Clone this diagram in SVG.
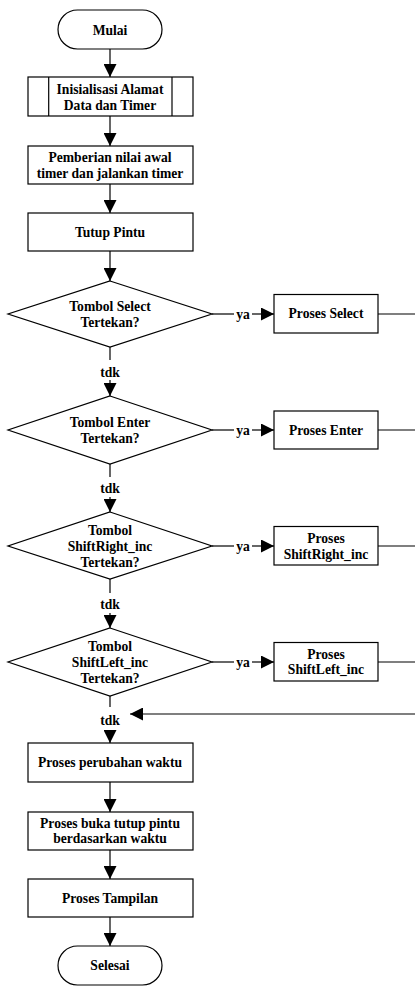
<svg xmlns="http://www.w3.org/2000/svg" width="415" height="986" viewBox="0 0 415 986">
<style>
.s{fill:#fff;stroke:#000;stroke-width:1.2}
.c{fill:none;stroke:#000;stroke-width:1.2}
text{font-family:"Liberation Serif","Times New Roman",serif;font-weight:bold;font-size:13.6px;fill:#000;text-anchor:middle}
</style>
<defs>
<marker id="ah" markerUnits="userSpaceOnUse" markerWidth="13" markerHeight="13" viewBox="0 0 12 12" refX="12" refY="6" orient="auto">
<path d="M0,0 L12,6 L0,12 Z" fill="#000"/>
</marker>
</defs>
<rect width="415" height="986" fill="#fff"/>
<g id="connectors">
<line class="c" x1="110" y1="49" x2="110" y2="77" marker-end="url(#ah)"/>
<line class="c" x1="110" y1="116" x2="110" y2="146" marker-end="url(#ah)"/>
<line class="c" x1="110" y1="184" x2="110" y2="213" marker-end="url(#ah)"/>
<line class="c" x1="110" y1="251" x2="110" y2="281" marker-end="url(#ah)"/>
<line class="c" x1="110" y1="347" x2="110" y2="360"/>
<text x="110" y="376.5">tdk</text>
<line class="c" x1="110" y1="380" x2="110" y2="396" marker-end="url(#ah)"/>
<line class="c" x1="110" y1="464" x2="110" y2="477"/>
<text x="110" y="492.5">tdk</text>
<line class="c" x1="110" y1="497" x2="110" y2="512" marker-end="url(#ah)"/>
<line class="c" x1="110" y1="579" x2="110" y2="593"/>
<text x="110" y="608.5">tdk</text>
<line class="c" x1="110" y1="613" x2="110" y2="628" marker-end="url(#ah)"/>
<line class="c" x1="110" y1="696" x2="110" y2="707"/>
<text x="110" y="724.5">tdk</text>
<line class="c" x1="110" y1="731" x2="110" y2="743" marker-end="url(#ah)"/>
<line class="c" x1="110" y1="782" x2="110" y2="812" marker-end="url(#ah)"/>
<line class="c" x1="110" y1="850" x2="110" y2="879" marker-end="url(#ah)"/>
<line class="c" x1="110" y1="917" x2="110" y2="946" marker-end="url(#ah)"/>
<!-- ya branches -->
<line class="c" x1="212" y1="314" x2="234" y2="314"/>
<text x="243" y="318.5">ya</text>
<line class="c" x1="252" y1="314" x2="274" y2="314" marker-end="url(#ah)"/>
<line class="c" x1="378" y1="314" x2="415" y2="314"/>
<line class="c" x1="212" y1="430" x2="234" y2="430"/>
<text x="243" y="434.5">ya</text>
<line class="c" x1="252" y1="430" x2="274" y2="430" marker-end="url(#ah)"/>
<line class="c" x1="378" y1="430" x2="415" y2="430"/>
<line class="c" x1="212" y1="546" x2="234" y2="546"/>
<text x="243" y="550.5">ya</text>
<line class="c" x1="252" y1="546" x2="274" y2="546" marker-end="url(#ah)"/>
<line class="c" x1="378" y1="546" x2="415" y2="546"/>
<line class="c" x1="212" y1="662" x2="234" y2="662"/>
<text x="243" y="666.5">ya</text>
<line class="c" x1="252" y1="662" x2="274" y2="662" marker-end="url(#ah)"/>
<line class="c" x1="378" y1="662" x2="415" y2="662"/>
<line class="c" x1="415" y1="714" x2="130" y2="714" marker-end="url(#ah)"/>
</g>
<g id="mulai">
<rect class="s" x="58" y="10" width="104" height="39" rx="19.5" ry="19.5"/>
<text x="110" y="34.5">Mulai</text>
</g>
<g id="inisialisasi">
<rect class="s" x="28" y="77" width="165" height="39"/>
<line class="c" x1="48.7" y1="77" x2="48.7" y2="116"/>
<line class="c" x1="172" y1="77" x2="172" y2="116"/>
<text x="110" y="93.5">Inisialisasi Alamat</text>
<text x="110" y="109.5">Data dan Timer</text>
</g>
<g id="pemberian">
<rect class="s" x="28" y="146" width="165" height="38"/>
<text x="110" y="161.5">Pemberian nilai awal</text>
<text x="110" y="177.5">timer dan jalankan timer</text>
</g>
<g id="tutup">
<rect class="s" x="28" y="213" width="165" height="38"/>
<text x="110" y="236.5">Tutup Pintu</text>
</g>
<g id="d-select">
<polygon class="s" points="110,281 212,314 110,347 8,314"/>
<text x="110" y="310.5">Tombol Select</text>
<text x="110" y="326.5">Tertekan?</text>
</g>
<g id="p-select">
<rect class="s" x="274" y="294.5" width="104" height="38.5"/>
<text x="326" y="318">Proses Select</text>
</g>
<g id="d-enter">
<polygon class="s" points="110,396 212,430 110,464 8,430"/>
<text x="110" y="426.5">Tombol Enter</text>
<text x="110" y="442.5">Tertekan?</text>
</g>
<g id="p-enter">
<rect class="s" x="274" y="411" width="104" height="38"/>
<text x="326" y="434.5">Proses Enter</text>
</g>
<g id="d-shiftright">
<polygon class="s" points="110,512 212,546 110,579 8,546"/>
<text x="110" y="534.5">Tombol</text>
<text x="110" y="550.5">ShiftRight_inc</text>
<text x="110" y="566.5">Tertekan?</text>
</g>
<g id="p-shiftright">
<rect class="s" x="274" y="526.5" width="104" height="38.5"/>
<text x="326" y="542.5">Proses</text>
<text x="326" y="558.5">ShiftRight_inc</text>
</g>
<g id="d-shiftleft">
<polygon class="s" points="110,628 212,662 110,696 8,662"/>
<text x="110" y="650.5">Tombol</text>
<text x="110" y="666.5">ShiftLeft_inc</text>
<text x="110" y="682.5">Tertekan?</text>
</g>
<g id="p-shiftleft">
<rect class="s" x="274" y="642.5" width="104" height="38.5"/>
<text x="326" y="658.5">Proses</text>
<text x="326" y="674">ShiftLeft_inc</text>
</g>
<g id="perubahan">
<rect class="s" x="28" y="743" width="165" height="39"/>
<text x="110" y="767">Proses perubahan waktu</text>
</g>
<g id="buka">
<rect class="s" x="28" y="812" width="165" height="38"/>
<text x="110" y="827.5">Proses buka tutup pintu</text>
<text x="110" y="843">berdasarkan waktu</text>
</g>
<g id="tampilan">
<rect class="s" x="28" y="879" width="165" height="38"/>
<text x="110" y="902.5">Proses Tampilan</text>
</g>
<g id="selesai">
<rect class="s" x="58" y="946" width="104" height="39" rx="19.5" ry="19.5"/>
<text x="110" y="970">Selesai</text>
</g>
</svg>
